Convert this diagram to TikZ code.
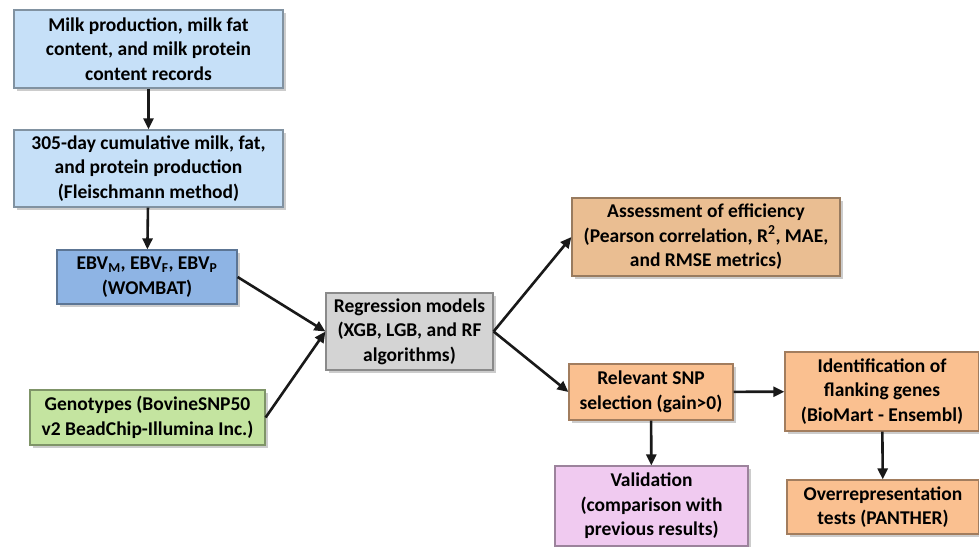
\documentclass[tikz,border=0pt]{standalone}
\usepackage{fontspec}
\setmainfont{Carlito}
\usepackage{tikz}
\usetikzlibrary{positioning,arrows.meta,shadows}

\definecolor{boxblue}{RGB}{198,224,248}
\definecolor{boxebv}{RGB}{142,180,228}
\definecolor{boxgreen}{RGB}{196,228,160}
\definecolor{boxgray}{RGB}{212,212,212}
\definecolor{boxtan}{RGB}{234,190,146}
\definecolor{boxorange}{RGB}{250,192,144}
\definecolor{boxpink}{RGB}{240,202,240}

\tikzset{
  flowbox/.style={draw=#1!65!black, line width=1.2pt, fill=#1, align=center,
    inner sep=2pt, font=\fontsize{19.5}{24.5}\selectfont\bfseries,
    drop shadow={shadow xshift=2.5pt, shadow yshift=-2.5pt, fill=black!40}},
  flowarrow/.style={-{Triangle[length=11pt,width=10pt]}, line width=2.6pt, black!90}
}

\begin{document}
\begin{tikzpicture}[x=1pt,y=-1pt]
        % Canvas
        \useasboundingbox (0,0) rectangle (979,546);

        % Input records (left column)
        \node[flowbox=boxblue, minimum width=269pt, minimum height=78pt] (milk) at (148.5,49)
            {Milk production, milk fat\\content, and milk protein\\content records};
        \node[flowbox=boxblue, minimum width=269pt, minimum height=77pt] (cumul) at (148.5,168.5)
            {305-day cumulative milk, fat,\\and protein production\\(Fleischmann method)};
        \node[flowbox=boxebv, minimum width=180pt, minimum height=54pt] (ebv) at (147,277)
            {EBV\textsubscript{M}, EBV\textsubscript{F}, EBV\textsubscript{P}\\(WOMBAT)};
        \node[flowbox=boxgreen, minimum width=235pt, minimum height=55pt] (geno) at (147.5,417.5)
            {Genotypes (BovineSNP50\\v2 BeadChip-Illumina Inc.)};

        % Models
        \node[flowbox=boxgray, minimum width=167pt, minimum height=77pt] (reg) at (409.5,331.5)
            {Regression models\\(XGB, LGB, and RF\\algorithms)};

        % Outputs (right side)
        \node[flowbox=boxtan, minimum width=268pt, minimum height=78pt] (assess) at (706,237)
            {Assessment of efficiency\\(Pearson correlation, R\textsuperscript{2}, MAE,\\and RMSE metrics)};
        \node[flowbox=boxorange, minimum width=164pt, minimum height=56pt] (snp) at (651,392)
            {Relevant SNP\\selection (gain>0)};
        \node[flowbox=boxorange, minimum width=194pt, minimum height=79pt] (ident) at (882,391.5)
            {Identification of\\flanking genes\\(BioMart - Ensembl)};
        \node[flowbox=boxpink, minimum width=193pt, minimum height=80pt] (valid) at (651.5,506)
            {Validation\\(comparison with\\previous results)};
        \node[flowbox=boxorange, minimum width=192pt, minimum height=54pt] (overrep) at (883,507)
            {Overrepresentation\\tests (PANTHER)};

        % Connectors
        \draw[flowarrow] (milk) -- (cumul);
        \draw[flowarrow] (cumul) -- (ebv);
        \draw[flowarrow] (ebv.east) -- (reg.west);
        \draw[flowarrow] (geno.east) -- (reg.west);
        \draw[flowarrow] (reg.east) -- (assess.west);
        \draw[flowarrow] (reg.east) -- (snp.west);
        \draw[flowarrow] (snp) -- (ident);
        \draw[flowarrow] (snp) -- (valid);
        \draw[flowarrow] (ident) -- (overrep);
    \end{tikzpicture}
\end{document}
